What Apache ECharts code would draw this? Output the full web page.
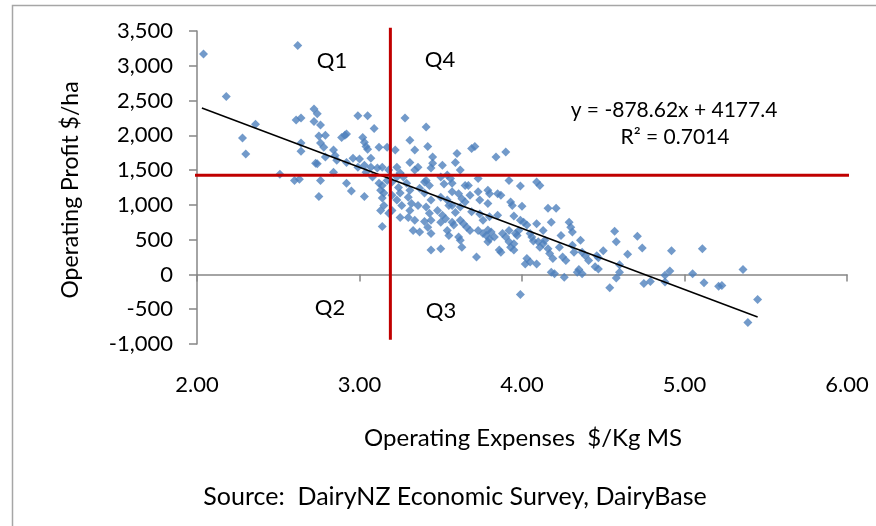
<!DOCTYPE html>
<html>
<head>
<meta charset="utf-8">
<script src="https://cdn.jsdelivr.net/npm/echarts@6/dist/echarts.min.js"></script>
<style>
  html, body { margin: 0; padding: 0; background: #fff; }
  #chart { width: 876px; height: 526px; }
</style>
</head>
<body>
<div id="chart"></div>
<script>
// operating expenses ($/Kg MS), operating profit ($/ha) for each farm
const farms = [
  [2.04, 3170], [2.62, 3290], [2.18, 2560], [2.36, 2160], [2.28, 1960], [2.30, 1730],
  [2.51, 1440], [2.60, 1350], [2.63, 1370], [2.72, 2380], [2.74, 2310], [2.61, 2220],
  [2.64, 2250], [2.72, 2200], [2.76, 2150], [2.64, 1890], [2.64, 1770], [2.75, 1990],
  [2.79, 2000], [2.76, 1890], [2.78, 1830], [2.79, 1690], [2.74, 1590], [2.73, 1600],
  [2.76, 1350], [2.75, 1120],
  [2.84, 1790], [2.85, 1710], [2.86, 1640], [2.89, 1970], [2.91, 2000], [2.92, 2020],
  [2.92, 1610], [2.96, 1670], [3.00, 1660], [2.99, 1540], [2.84, 1470], [2.92, 1310],
  [2.95, 1200], [2.99, 2280], [3.05, 2280], [3.09, 2100], [3.02, 1970], [3.03, 1900],
  [3.04, 1840], [3.05, 1800], [3.07, 1670], [3.07, 1540], [3.11, 1530], [3.14, 1540],
  [3.12, 1830], [3.17, 1830], [3.12, 1310], [3.14, 1280], [3.03, 1120], [3.14, 1100],
  [3.14, 690], [3.17, 1350], [3.13, 1210], [3.15, 1170], [3.08, 1400], [3.04, 1470],
  [3.18, 1500], [3.15, 990], [3.13, 920], [3.18, 880], [3.03, 1570],
  [3.22, 1790], [3.23, 1540], [3.25, 1460], [3.27, 1400], [3.23, 1400], [3.28, 2250],
  [3.31, 1610], [3.36, 1540], [3.34, 1500], [3.41, 2120], [3.42, 1840], [3.45, 1690],
  [3.45, 1600], [3.44, 1530], [3.50, 1400], [3.54, 1430], [3.41, 1350], [3.43, 1280],
  [3.24, 1250], [3.25, 1170], [3.23, 1070], [3.26, 990], [3.25, 820], [3.29, 1310],
  [3.31, 1210], [3.30, 1110], [3.32, 1020], [3.31, 920], [3.33, 630], [3.37, 610],
  [3.30, 820], [3.34, 780], [3.40, 1170], [3.44, 1070], [3.41, 970], [3.43, 880],
  [3.44, 780], [3.44, 590], [3.44, 350], [3.50, 370], [3.20, 1140], [3.20, 920],
  [3.36, 990], [3.37, 1240], [3.20, 1330], [3.34, 1790], [3.31, 1930], [3.40, 1330],
  [3.48, 920], [3.51, 850], [3.50, 750], [3.40, 760], [3.42, 680], [3.50, 1110],
  [3.54, 1070], [3.55, 990],
  [3.60, 1740], [3.69, 1810], [3.71, 1840], [3.84, 1690], [3.90, 1760], [3.56, 1380],
  [3.57, 1310], [3.67, 1280], [3.73, 1380], [3.73, 1190], [3.79, 1210], [3.80, 1160],
  [3.85, 1160], [3.92, 1350], [3.93, 1040], [3.94, 990], [3.61, 1160], [3.63, 1090],
  [3.65, 1040], [3.62, 970], [3.69, 900], [3.74, 870], [3.76, 780], [3.80, 830],
  [3.85, 850], [3.53, 800], [3.57, 750], [3.58, 710], [3.62, 780], [3.64, 730],
  [3.66, 680], [3.68, 630], [3.73, 630], [3.76, 590], [3.78, 560], [3.81, 610],
  [3.83, 540], [3.88, 590], [3.92, 630], [3.96, 590], [3.61, 540], [3.62, 490],
  [3.54, 630], [3.55, 560], [3.92, 470], [3.93, 390], [3.95, 350], [3.86, 350],
  [3.63, 390], [3.72, 250], [3.79, 640], [3.80, 510], [3.79, 470], [3.90, 540],
  [3.74, 1070], [3.79, 1020], [3.68, 1140], [3.65, 1280], [3.51, 1570], [3.59, 1610],
  [3.62, 1500], [3.87, 1140], [3.52, 1300], [3.57, 1190], [3.57, 990], [3.59, 890],
  [3.99, 1270], [4.09, 1330], [4.11, 1280], [4.00, 980], [4.16, 950], [4.21, 950],
  [3.95, 840], [3.99, 780], [4.01, 750], [4.03, 710], [4.09, 730], [4.18, 750],
  [4.29, 750], [4.30, 680], [4.31, 610], [3.98, 630], [3.97, 560], [4.05, 590],
  [4.06, 540], [4.07, 480], [4.13, 630], [4.10, 470], [4.11, 390], [4.13, 440],
  [3.95, 440], [3.87, 320], [4.24, 560], [4.36, 490], [4.16, 370], [4.17, 300],
  [4.19, 230], [4.23, 390], [4.31, 420], [4.32, 320], [4.25, 250], [4.27, 200],
  [4.37, 320], [4.39, 270], [4.41, 200], [4.03, 230], [4.05, 180], [4.02, 150],
  [4.18, 30], [4.20, 10], [4.26, -40], [4.34, 30], [4.35, 70], [4.37, 10],
  [4.46, 270], [4.47, 240], [4.45, 110], [4.47, 80], [3.99, -290], [4.14, 490],
  [4.09, 150],
  [4.50, 340], [4.57, 620], [4.58, 470], [4.71, 550], [4.74, 380], [4.65, 290],
  [4.60, 140], [4.60, 30], [4.58, -50], [4.54, -190], [4.75, -130], [4.79, -100],
  [4.88, -110], [4.88, -10], [4.91, 50], [4.92, 340], [5.05, 10], [5.11, 370],
  [5.12, -120], [5.21, -170], [5.23, -160], [5.36, 70], [5.45, -360], [5.39, -690]
];

// linear trend drawn by the spreadsheet: y = -878.62x + 4177.4
const trendX = [2.03, 5.45];
const trendY = [2394, -611];

// red quadrant lines (averages)
const avgExpense = 3.19;
const avgProfit = 1427;
const vLineY = [3545, -940];
const hLineX = [1.94, 6.04];

const xMin = 2, xMax = 6, xStep = 1;
const yMin = -1000, yMax = 3500, yStep = 500;

const quadLabels = [
  { text: 'Q1', x: 332, y: 61 },
  { text: 'Q4', x: 440, y: 60 },
  { text: 'Q2', x: 330, y: 308 },
  { text: 'Q3', x: 441, y: 311 }
];

const font = 'Lato, "Open Sans", sans-serif';

var chartDom = document.getElementById('chart');
var myChart = echarts.init(chartDom);
var option;

var texts = quadLabels.map(function (q) {
  return {
    type: 'text', x: q.x, y: q.y, z: 10,
    style: { text: q.text, font: '22px ' + font, fill: '#000', align: 'center', verticalAlign: 'middle' }
  };
});

option = {
  animation: false,
  grid: { left: 197, right: 29, top: 31, bottom: 182 },
  xAxis: [
    {
      type: 'value', min: xMin, max: xMax, interval: xStep, position: 'bottom',
      axisLine: { show: true, onZero: true, lineStyle: { color: '#868686', width: 1.5 } },
      axisTick: { show: true, length: 7, lineStyle: { color: '#868686', width: 1.5 } },
      axisLabel: { show: false },
      splitLine: { show: false }
    },
    {
      type: 'value', min: xMin, max: xMax, interval: xStep, position: 'bottom',
      axisLine: { show: false, onZero: false },
      axisTick: { show: false },
      axisLabel: {
        margin: 30, color: '#000', fontSize: 22, fontFamily: font,
        formatter: function (v) { return v.toFixed(2); }
      },
      splitLine: { show: false }
    }
  ],
  yAxis: {
    type: 'value', min: yMin, max: yMax, interval: yStep,
    axisLine: { show: true, lineStyle: { color: '#868686', width: 1.5 } },
    axisTick: { show: true, length: 8, lineStyle: { color: '#868686', width: 1.5 } },
    axisLabel: {
      margin: 24, color: '#000', fontSize: 22, fontFamily: font,
      formatter: function (v) { return v.toLocaleString('en-US'); }
    },
    splitLine: { show: false }
  },
  graphic: [
    {
      type: 'rect', z: -1, silent: true,
      shape: { x: 12.5, y: 5.5, width: 900, height: 600 },
      style: { fill: null, stroke: '#a6a6a6', lineWidth: 1.5 }
    },
    {
      type: 'text', x: 71, y: 190, rotation: Math.PI / 2,
      style: { text: 'Operating Profit $/ha', font: '23px ' + font, fill: '#000', align: 'center', verticalAlign: 'middle' }
    },
    {
      type: 'text', x: 523, y: 438,
      style: { text: 'Operating Expenses  $/Kg MS', font: '24px ' + font, fill: '#000', align: 'center', verticalAlign: 'middle' }
    },
    {
      type: 'text', x: 455, y: 497,
      style: { text: 'Source:  DairyNZ Economic Survey, DairyBase', font: '25px ' + font, fill: '#000', align: 'center', verticalAlign: 'middle' }
    },
    {
      type: 'text', x: 674, y: 110,
      style: { text: 'y = -878.62x + 4177.4', font: '21px ' + font, fill: '#000', align: 'center', verticalAlign: 'middle' }
    },
    {
      type: 'text', x: 675, y: 137,
      style: { text: 'R² = 0.7014', font: '21px ' + font, fill: '#000', align: 'center', verticalAlign: 'middle' }
    }
  ].concat(texts),
  series: [
    {
      name: 'farms', type: 'scatter', xAxisIndex: 0, z: 2,
      symbol: 'diamond', symbolSize: 9,
      itemStyle: { color: '#4F81BD' },
      data: farms
    },
    {
      name: 'trend', type: 'line', xAxisIndex: 0, z: 3,
      symbol: 'none', silent: true,
      lineStyle: { color: '#000', width: 1.5 },
      data: [[trendX[0], trendY[0]], [trendX[1], trendY[1]]]
    },
    {
      name: 'avgExpense', type: 'line', xAxisIndex: 0, z: 4, clip: false,
      symbol: 'none', silent: true,
      lineStyle: { color: '#C00000', width: 3 },
      data: [[avgExpense, vLineY[0]], [avgExpense, vLineY[1]]]
    },
    {
      name: 'avgProfit', type: 'line', xAxisIndex: 0, z: 4, clip: false,
      symbol: 'none', silent: true,
      lineStyle: { color: '#C00000', width: 3 },
      data: [[hLineX[0], avgProfit], [hLineX[1], avgProfit]]
    }
  ]
};

option && myChart.setOption(option);
</script>
</body>
</html>
